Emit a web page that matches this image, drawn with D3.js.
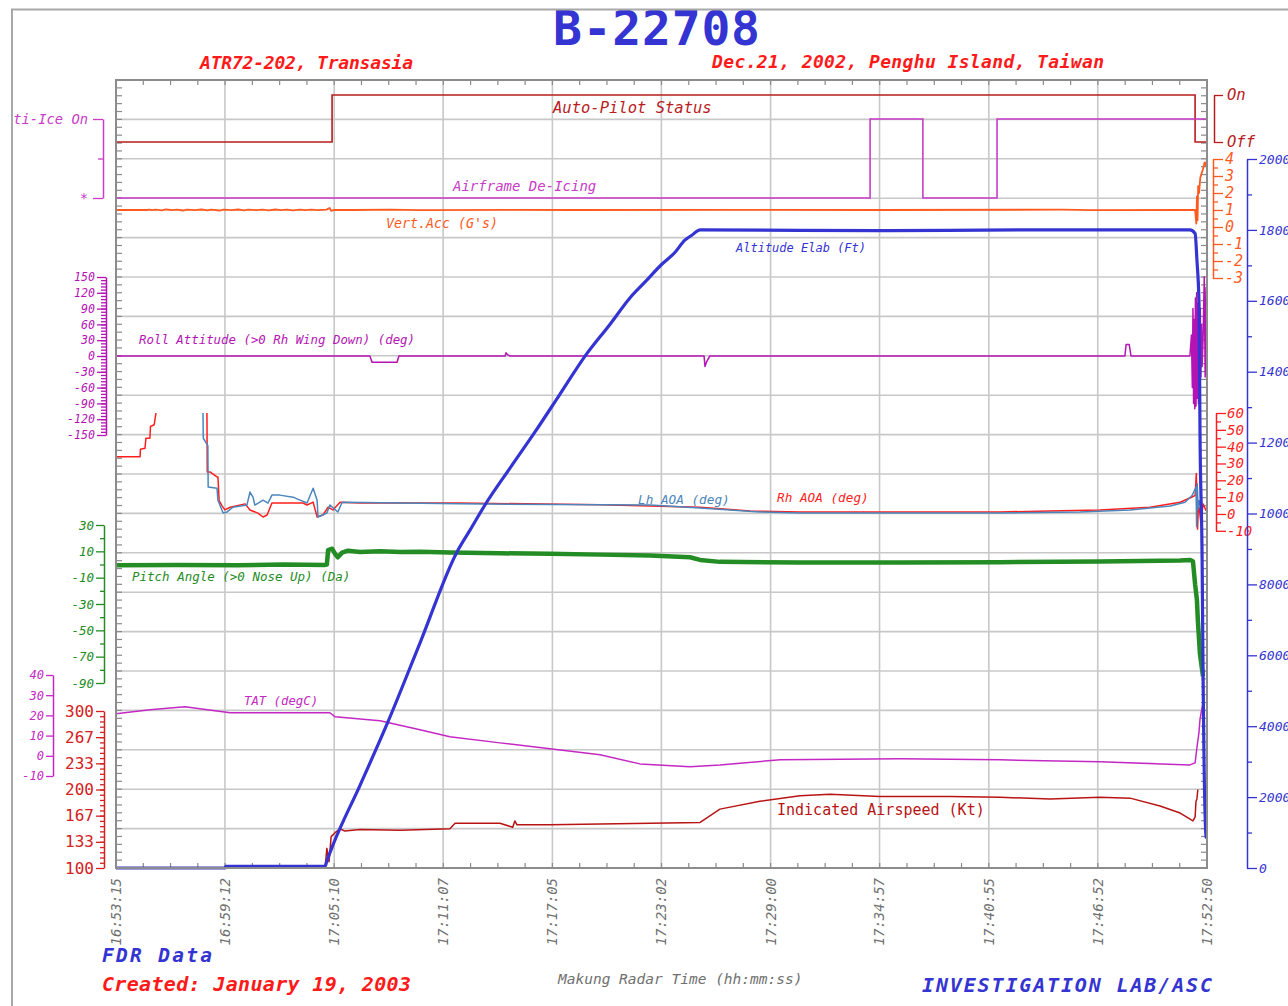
<!DOCTYPE html>
<html>
<head>
<meta charset="utf-8">
<script src="https://cdn.jsdelivr.net/npm/d3@7"></script>
<style>
body { margin: 0; background: #fff; }
text { font-family: "DejaVu Sans Mono", monospace; }
</style>
</head>
<body>
<div id="chart"></div>
<script>
// Makung radar time ticks
const timeTicks = ["16:53:15", "16:59:12", "17:05:10", "17:11:07", "17:17:05", "17:23:02",
    "17:29:00", "17:34:57", "17:40:55", "17:46:52", "17:52:50"];

// every series: [seconds after 16:53:15, value]
const autoPilot = [[0, 0], [708, 1], [3536, 0], [3575, 0]];           // 0 = Off, 1 = On
const deIcing = [[0, 0], [2471, 1], [2644, 0], [2887, 1], [3575, 1]];  // 0 = *, 1 = Anti-Ice On

const vertAcc = [[0, 1.0], [100, 1.0], [110, 1.02], [118, 0.99], [130, 1.02], [150, 0.98], [163, 1.03],
    [185, 0.99], [200, 1.02], [220, 0.97], [232, 1.02], [260, 0.99], [280, 1.03], [300, 0.98], [311, 1.02],
    [340, 0.97], [352, 1.02], [380, 0.99], [400, 1.03], [420, 0.98], [433, 1.02], [460, 0.99], [480, 1.02],
    [500, 0.98], [522, 1.03], [540, 0.99], [560, 1.02], [580, 0.98], [604, 1.02], [620, 0.99], [640, 1.02],
    [660, 0.99], [690, 1.02], [700, 1.12], [705, 0.95], [715, 1.01], [780, 1.0], [900, 1.02], [1000, 0.99],
    [1300, 1.01], [1500, 1.0], [2000, 1.01], [2500, 1.0], [3100, 1.02], [3200, 0.99], [3500, 1.0],
    [3536, 1.0], [3540, 0.2], [3542, 1.8], [3544, 0.4], [3546, 2.4], [3549, 2.0], [3553, 2.9],
    [3558, 3.2], [3562, 3.4], [3567, 3.8], [3572, 3.6], [3575, 4.0]];

const altitude = [[0, 0], [357, 0], [360, 50], [685, 50], [691, 200], [711, 650], [800, 2340],
    [891, 4120], [996, 6345], [1117, 8910], [1160, 9530], [1209, 10240], [1291, 11280], [1373, 12300],
    [1455, 13370], [1537, 14440], [1619, 15340], [1684, 16080], [1733, 16525], [1786, 17010],
    [1832, 17370], [1864, 17710], [1887, 17850], [1914, 18000], [2500, 17980], [3000, 18000],
    [3519, 18000], [3536, 17900], [3542, 17150], [3549, 15870], [3552, 12350], [3559, 8690],
    [3562, 5580], [3572, 870], [3575, 850]];

const roll = [[0, 0], [832, 0], [839, -12], [921, -12], [927, 0], [1275, 0], [1278, 6], [1284, 2],
    [1291, 0], [1927, 0], [1930, -20], [1936, -10], [1946, 0], [3306, 0], [3310, 22], [3320, 22],
    [3326, 0], [3519, 0], [3524, 40], [3527, -60], [3529, 90], [3531, -90], [3533, 70], [3535, -100],
    [3537, 110], [3539, -95], [3541, 120], [3543, -80], [3545, 100], [3547, -90], [3549, 140],
    [3551, -70], [3553, 90], [3555, -40], [3557, 60], [3559, -20], [3562, 30], [3566, 150],
    [3569, -40], [3572, 130], [3575, 20]];

const rhAOA = [[0, 34], [79, 34], [80, 38.5], [95, 39], [98, 45], [111, 45], [113, 52], [125, 53],
    [131, 60], [133, null], [298, 60], [299, 25], [308, 25], [331, 22], [334, 22], [338, 8], [347, 5],
    [357, 2.4], [374, 4], [423, 6], [439, 2.4], [465, 0.5], [482, -1.8], [495, -0.6], [511, 6.5],
    [613, 6.5], [626, 5.3], [646, 7], [659, -1.8], [678, -0.6], [695, 4], [711, 2.4], [734, 7],
    [800, 6.5], [1127, 6.5], [1586, 5.5], [1914, 4], [2078, 1.8], [2241, 1.2], [2897, 1.2],
    [3061, 1.8], [3224, 2.4], [3388, 4], [3487, 7], [3519, 9.5], [3536, 11], [3540, 24], [3542, 8],
    [3544, -9], [3547, 5], [3550, 3], [3555, -5], [3562, 6], [3572, 2]];

const lhAOA = [[285, 60], [286, 45], [301, 40.6], [302, 16], [331, 15.3], [334, 8.2], [351, 0.6],
    [364, 1.2], [383, 4], [429, 5.3], [439, 13], [449, 10], [455, 5.3], [482, 8.2], [498, 6.5],
    [511, 11.2], [537, 11.2], [580, 10], [603, 8.2], [626, 6.5], [646, 15.3], [659, 8.2], [662, -1.8],
    [691, 0.6], [701, 5.3], [727, 1.2], [741, 7], [1127, 6], [1750, 5.3], [1914, 3.5], [2110, 1.2],
    [2241, 0.6], [2897, 0.6], [3159, 1.2], [3323, 2.4], [3454, 4.7], [3503, 7], [3526, 11],
    [3539, 16], [3541, -7.6], [3543, 18], [3546, 3], [3549, 8], [3552, 5]];

const pitch = [[0, -0.5], [200, -0.3], [400, -0.6], [550, 0], [685, -0.3], [691, 0], [695, 11],
    [708, 12], [718, 8], [727, 5.5], [741, 9], [760, 10.5], [800, 9.5], [865, 10], [931, 9.5],
    [996, 9.6], [1094, 9.2], [1258, 8.5], [1422, 8.2], [1586, 7.5], [1750, 6.8], [1881, 5.5],
    [1914, 3.5], [1979, 2], [2241, 1.5], [2569, 1.6], [2897, 1.8], [3224, 2.2], [3487, 3.0],
    [3519, 3.5], [3529, 2.5], [3532, -5], [3536, -15], [3542, -27], [3545, -42], [3549, -57],
    [3552, -68], [3556, -75], [3562, -85]];

const tat = [[0, 20.8], [111, 22.8], [226, 24.3], [275, 23.3], [374, 21.3], [701, 21.3], [718, 19.3],
    [865, 17.3], [996, 12.9], [1094, 9.4], [1258, 6.4], [1422, 3.5], [1586, 0.5], [1717, -4],
    [1881, -5.4], [1979, -4.5], [2176, -2], [2569, -1.5], [2897, -2], [3224, -3], [3519, -4.5],
    [3536, -3.5], [3542, 4], [3549, 12], [3552, 18], [3559, 24], [3562, 26]];

const airspeed = [[0, 100], [685, 100], [691, 125], [698, 108], [705, 140], [718, 145], [734, 150],
    [750, 147], [800, 149], [931, 148], [1094, 150], [1111, 157], [1258, 157], [1300, 152],
    [1307, 160], [1314, 155], [1422, 155], [1586, 156], [1914, 158], [1979, 175], [2110, 185],
    [2241, 192], [2340, 194], [2503, 191], [2733, 191], [2897, 190], [3061, 188], [3224, 190],
    [3323, 189], [3421, 179], [3487, 170], [3529, 160], [3536, 165], [3539, 185], [3542, 188],
    [3545, 200]];

// axis ticks
const rollTicks = [150, 120, 90, 60, 30, 0, -30, -60, -90, -120, -150];
const pitchTicks = [30, 10, -10, -30, -50, -70, -90];
const tatTicks = [40, 30, 20, 10, 0, -10];
const iasTicks = [300, 266.67, 233.33, 200, 166.67, 133.33, 100];
const gTicks = [4, 3, 2, 1, 0, -1, -2, -3];
const aoaTicks = [60, 50, 40, 30, 20, 10, 0, -10];
const altTicks = [20000, 18000, 16000, 14000, 12000, 10000, 8000, 6000, 4000, 2000, 0];

const W = 1288, H = 1006;
const plot = {left: 116, right: 1207, top: 80, bottom: 868};

const svg = d3.select("#chart").append("svg")
    .attr("width", W).attr("height", H)
    .style("background", "#fff");

svg.append("defs").append("clipPath").attr("id", "page")
    .append("rect").attr("x", 13).attr("y", 10).attr("width", W).attr("height", H);

const page = svg.append("g").attr("clip-path", "url(#page)");

// outer frame
svg.append("path").attr("d", `M12,${H}V9.5H${W}`)
    .attr("fill", "none").attr("stroke", "#a8a8a8").attr("stroke-width", 2);

const parseT = d3.timeParse("%H:%M:%S");
const t0 = parseT(timeTicks[0]);
const at = s => new Date(t0.getTime() + s * 1000);

const x = d3.scaleTime()
    .domain([t0, parseT(timeTicks[timeTicks.length - 1])])
    .range([plot.left, plot.right]);

const yGrid = d3.scaleLinear().domain([0, 20]).range([plot.bottom, plot.top]);
const yAP = d3.scaleLinear().domain([0, 1]).range([142, 95]);
const yIce = d3.scaleLinear().domain([0, 1]).range([198, 119]);
const yG = d3.scaleLinear().domain([-3, 4]).range([278, 159]);
const yAlt = d3.scaleLinear().domain([0, 20000]).range([868, 159]);
const yRoll = d3.scaleLinear().domain([-150, 150]).range([435, 277]);
const yAOA = d3.scaleLinear().domain([-10, 60]).range([530.8, 413]);
const yPitch = d3.scaleLinear().domain([-90, 30]).range([683, 525]);
const yTAT = d3.scaleLinear().domain([-10, 40]).range([776, 675]);
const yIAS = d3.scaleLinear().domain([100, 300]).range([868, 711]);

// grid
const grid = page.append("g");
grid.selectAll(".vg").data(timeTicks.slice(1, -1)).join("line")
    .attr("x1", d => x(parseT(d))).attr("x2", d => x(parseT(d)))
    .attr("y1", plot.top).attr("y2", plot.bottom)
    .attr("stroke", "#c8c8c8").attr("stroke-width", 1.6);
grid.selectAll(".hg").data(d3.range(1, 20)).join("line")
    .attr("x1", plot.left).attr("x2", plot.right)
    .attr("y1", d => yGrid(d)).attr("y2", d => yGrid(d))
    .attr("stroke", "#c8c8c8").attr("stroke-width", 1.6);

// frame ticks
const xFrac = d3.scaleLinear().domain([0, 40]).range([plot.left, plot.right]);
const yFrac = d3.scaleLinear().domain([0, 100]).range([plot.bottom, plot.top]);
const ft = page.append("g").attr("stroke", "#8a8a8a").attr("stroke-width", 1.2);
ft.selectAll(".tt").data(d3.range(1, 40)).join("line")
    .attr("x1", d => xFrac(d)).attr("x2", d => xFrac(d))
    .attr("y1", plot.top).attr("y2", plot.top + 5);
ft.selectAll(".bt").data(d3.range(1, 40)).join("line")
    .attr("x1", d => xFrac(d)).attr("x2", d => xFrac(d))
    .attr("y1", plot.bottom).attr("y2", plot.bottom - 5);
ft.selectAll(".lt").data(d3.range(1, 100)).join("line")
    .attr("x1", plot.left).attr("x2", plot.left + 6)
    .attr("y1", d => yFrac(d)).attr("y2", d => yFrac(d));
ft.selectAll(".rt").data(d3.range(1, 100)).join("line")
    .attr("x1", plot.right).attr("x2", plot.right - 6)
    .attr("y1", d => yFrac(d)).attr("y2", d => yFrac(d));

// series
const plotG = page.append("g");
function drawSeries(data, y, color, width, curve) {
    const line = d3.line()
        .defined(d => d[1] !== null)
        .curve(curve || d3.curveLinear)
        .x(d => x(at(d[0])))
        .y(d => y(d[1]));
    plotG.append("path").datum(data)
        .attr("d", line)
        .attr("fill", "none")
        .attr("stroke", color)
        .attr("stroke-width", width)
        .attr("stroke-linejoin", "round");
}
function drawStep(data, y, color, width) {
    const line = d3.line().curve(d3.curveStepAfter)
        .x(d => x(at(d[0])))
        .y(d => y(d[1]));
    plotG.append("path").datum(data)
        .attr("d", line).attr("fill", "none")
        .attr("stroke", color).attr("stroke-width", width);
}

drawStep(autoPilot, yAP, "#b81c1c", 1.6);
drawStep(deIcing, yIce, "#c83cc8", 1.6);
drawSeries(vertAcc, yG, "#ff5a1e", 1.8);
drawSeries(roll, yRoll, "#b414b4", 1.5);
drawSeries(rhAOA, yAOA, "#ff1e1e", 1.5);
drawSeries(lhAOA, yAOA, "#4a86bc", 1.5);
drawSeries(pitch, yPitch, "#248c24", 4.5);
drawSeries(tat, yTAT, "#c428c4", 1.5);
drawSeries(airspeed, yIAS, "#b81414", 1.5);
drawSeries(altitude, yAlt, "#3434d2", 3.2, d3.curveMonotoneX);

// plot frame
page.append("rect")
    .attr("x", plot.left).attr("y", plot.top)
    .attr("width", plot.right - plot.left).attr("height", plot.bottom - plot.top)
    .attr("fill", "none").attr("stroke", "#8c8c8c").attr("stroke-width", 2);

// series labels
const labels = [
    {t: "Auto-Pilot Status", x: 553, y: 113, c: "#b81c1c", s: 15.5},
    {t: "Airframe De-Icing", x: 453, y: 191, c: "#c83cc8", s: 14},
    {t: "Vert.Acc (G's)", x: 386, y: 228, c: "#ff5a1e", s: 13.3},
    {t: "Altitude Elab (Ft)", x: 736, y: 252, c: "#3434d2", s: 12},
    {t: "Roll Attitude (>0 Rh Wing Down) (deg)", x: 139, y: 344, c: "#b414b4", s: 12.4},
    {t: "Lh AOA (deg)", x: 638, y: 504, c: "#4a86bc", s: 12.7},
    {t: "Rh AOA (deg)", x: 777, y: 502, c: "#ff1e1e", s: 12.7},
    {t: "Pitch Angle (>0 Nose Up) (Da)", x: 132, y: 581, c: "#248c24", s: 12.5},
    {t: "TAT (degC)", x: 244, y: 705, c: "#c428c4", s: 12.3}
];
page.selectAll(".slab").data(labels).join("text")
    .attr("x", d => d.x).attr("y", d => d.y)
    .attr("fill", d => d.c).attr("font-size", d => d.s)
    .attr("font-style", "italic")
    .text(d => d.t);
page.append("text").attr("x", 777).attr("y", 815)
    .attr("fill", "#b81414").attr("font-size", 15)
    .text("Indicated Airspeed (Kt)");

// value axes
function valueAxis(xPos, scale, side, o) {
    const g = page.append("g").attr("transform", `translate(${xPos},0)`);
    const mk = side === "left" ? d3.axisLeft : d3.axisRight;
    if (o.minor) {
        const m = g.append("g").call(mk(scale).tickValues(o.minor).tickSize(o.minorLen || 4).tickFormat(""));
        m.select(".domain").remove();
    }
    const a = g.append("g").call(mk(scale).tickValues(o.major).tickSize(o.majorLen || 8)
        .tickSizeOuter(0).tickPadding(o.pad || 2).tickFormat(o.fmt || (d => d)));
    g.selectAll("line").attr("stroke", o.color).attr("stroke-width", 1.3);
    g.selectAll(".domain").attr("stroke", o.color).attr("stroke-width", 1.5);
    a.selectAll("text").attr("fill", o.color)
        .attr("font-family", '"DejaVu Sans Mono", monospace')
        .attr("font-size", o.size || 12)
        .attr("font-style", o.upright ? "normal" : "italic");
    return g;
}

valueAxis(103, yIce, "left", {major: [0, 1], minor: [0.5], majorLen: 10, minorLen: 5, pad: 5,
    fmt: d => d === 1 ? "Anti-Ice On" : "*", color: "#c83cc8", size: 13.8});
valueAxis(106, yRoll, "left", {major: rollTicks, minor: d3.range(-144, 150, 6), majorLen: 9,
    minorLen: 5, color: "#b414b4", size: 11.6});
valueAxis(104, yPitch, "left", {major: pitchTicks, minor: [20, 0, -20, -40, -60, -80], majorLen: 8,
    minorLen: 4, color: "#248c24", size: 12.5});
valueAxis(53, yTAT, "left", {major: tatTicks, majorLen: 7, color: "#c428c4", size: 12});
valueAxis(104, yIAS, "left", {major: iasTicks, minor: d3.range(106.67, 300, 6.6667), majorLen: 8,
    minorLen: 4, fmt: d3.format(".0f"), color: "#d42020", size: 16, upright: true});

valueAxis(1214, yAP, "right", {major: [0, 1], majorLen: 9, pad: 4,
    fmt: d => d === 1 ? "On" : "Off", color: "#b81c1c", size: 15.5});
valueAxis(1213, yG, "right", {major: gTicks, minor: [3.5, 2.5, 1.5, 0.5, -0.5, -1.5, -2.5],
    majorLen: 10, minorLen: 5, color: "#ff5a1e", size: 15});
valueAxis(1216, yAOA, "right", {major: aoaTicks, minor: [55, 45, 35, 25, 15, 5, -5],
    majorLen: 10, minorLen: 5, color: "#ff1e1e", size: 14, pad: 1});
valueAxis(1247, yAlt, "right", {major: altTicks, minor: d3.range(1000, 20000, 2000),
    majorLen: 10, minorLen: 5, color: "#3434d2", size: 13});

// time axis labels
page.append("g").selectAll("text").data(timeTicks).join("text")
    .attr("transform", d => `translate(${x(parseT(d))},${plot.bottom + 10}) rotate(-90)`)
    .attr("text-anchor", "end").attr("dy", "0.35em")
    .attr("fill", "#707070").attr("font-size", 14).attr("font-style", "italic")
    .text(d => d);

page.append("text").attr("x", 558).attr("y", 984)
    .attr("fill", "#707070").attr("font-size", 14.5).attr("font-style", "italic")
    .text("Makung Radar Time (hh:mm:ss)");

// titles
const bold = '"Liberation Sans", Arial, sans-serif';
page.append("text").attr("x", 553).attr("y", 45)
    .attr("font-family", bold).attr("font-weight", "bold").attr("font-size", 48)
    .attr("fill", "#3434d2").attr("textLength", 207).attr("lengthAdjust", "spacing")
    .text("B-22708");
const heads = [
    {t: "ATR72-202, Transasia", x: 200, y: 69, w: 213, c: "#ff1a1a", s: 18},
    {t: "Dec.21, 2002, Penghu Island, Taiwan", x: 712, y: 68, w: 392, c: "#ff1a1a", s: 18},
    {t: "FDR Data", x: 102, y: 962, w: 110, c: "#3434d2", s: 19.5},
    {t: "Created: January 19, 2003", x: 102, y: 991, w: 309, c: "#ff1a1a", s: 20},
    {t: "INVESTIGATION LAB/ASC", x: 922, y: 992, w: 290, c: "#3434d2", s: 20}
];
page.selectAll(".head").data(heads).join("text")
    .attr("x", d => d.x).attr("y", d => d.y)
    .attr("font-family", bold).attr("font-weight", "bold").attr("font-style", "italic")
    .attr("font-size", d => d.s).attr("fill", d => d.c)
    .attr("textLength", d => d.w).attr("lengthAdjust", "spacing")
    .text(d => d.t);
</script>
</body>
</html>
